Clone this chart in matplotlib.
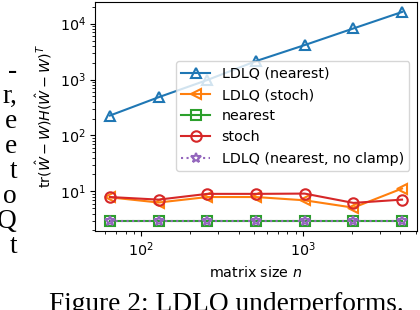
import numpy as np
import matplotlib
matplotlib.use("Agg")
import matplotlib.pyplot as plt

# matrix sizes and errors
n = [64, 128, 256, 512, 1024, 2048, 4096]
ldlq_nearest = [227, 483, 982, 2140, 4140, 8210, 16200]
ldlq_stoch = [7.8, 6.3, 7.9, 7.9, 6.9, 5.1, 11.2]
nearest = [3.0, 3.0, 3.0, 3.0, 3.0, 3.0, 3.0]
stoch = [7.9, 7.1, 9.0, 9.0, 9.1, 6.2, 7.1]
ldlq_noclamp = [3.0, 3.0, 3.0, 3.0, 3.0, 3.0, 3.0]

left_words = ["-", "r,", "e", "e", "t", "o", "Q", "t"]
caption = "Figure 2: LDLQ underperforms."

plt.rcParams["font.size"] = 10.3

fig = plt.figure(figsize=(4.2, 3.1), dpi=100)
ax = fig.add_axes([0.227, 0.255, 0.765, 0.740])

mk = dict(ms=7.5, mew=1.5, mfc="none")
ax.plot(n, ldlq_nearest, marker="^", color="C0", label="LDLQ (nearest)", **mk)
ax.plot(n, ldlq_stoch, marker="<", color="C1", label="LDLQ (stoch)", **mk)
ax.plot(n, nearest, marker="s", color="C2", label="nearest", **mk)
ax.plot(n, stoch, marker="o", color="C3", label="stoch", **mk)
ax.plot(n, ldlq_noclamp, marker="*", color="C4", linestyle=":",
        label="LDLQ (nearest, no clamp)", **mk)

ax.set_xscale("log")
ax.set_yscale("log")
ax.set_xlabel("matrix size $n$")
ax.set_ylabel(r"tr$(\hat{W}-W)H(\hat{W}-W)^T$")
ax.legend(loc="center right")

# bits of the surrounding page
for i, w in enumerate(left_words):
    fig.text(17 / 420, 1 - (78 + 25 * i) / 310, w, ha="right", va="baseline",
             family="Liberation Serif", fontsize=19.7)
fig.text(49 / 420, 1 - 311 / 310, caption, ha="left", va="baseline",
         family="Liberation Serif", fontsize=19.7)

fig.savefig("out.png", dpi=100)
